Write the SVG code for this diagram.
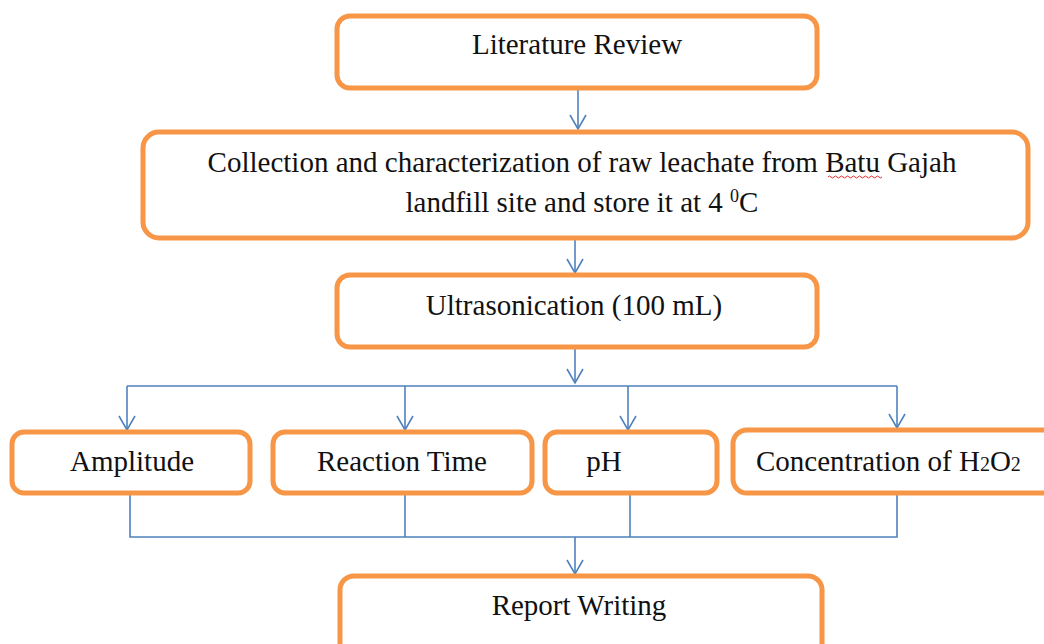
<svg xmlns="http://www.w3.org/2000/svg" width="1044" height="644" viewBox="0 0 1044 644">
<style>
.box{fill:#fff;stroke:#F79646;stroke-width:5}
.t{font-family:'Liberation Serif','Times New Roman',serif;font-size:29px;fill:#111}
.c{fill:none;stroke:#4F81BD;stroke-width:1.6}
</style>
<defs>
<marker id="ah" markerUnits="userSpaceOnUse" markerWidth="22" markerHeight="22" viewBox="-18 -11 22 22" refX="0" refY="0" orient="auto">
<path d="M-14,-8 L0,0 L-14,8" fill="none" stroke="#4F81BD" stroke-width="1.6"/>
</marker>
</defs>
<rect width="1044" height="644" fill="#fff"/>
<g id="connectors">
<line class="c" x1="578" y1="88" x2="578" y2="129" marker-end="url(#ah)"/>
<line class="c" x1="575" y1="238" x2="575" y2="273" marker-end="url(#ah)"/>
<line class="c" x1="575" y1="347" x2="575" y2="383" marker-end="url(#ah)"/>
<line class="c" x1="127" y1="386" x2="897" y2="386"/>
<line class="c" x1="127" y1="386" x2="127" y2="430" marker-end="url(#ah)"/>
<line class="c" x1="405" y1="386" x2="405" y2="430" marker-end="url(#ah)"/>
<line class="c" x1="628" y1="386" x2="628" y2="430" marker-end="url(#ah)"/>
<line class="c" x1="897" y1="386" x2="897" y2="428" marker-end="url(#ah)"/>
<polyline class="c" points="130,493 130,537 897,537 897,493"/>
<line class="c" x1="405" y1="493" x2="405" y2="537"/>
<line class="c" x1="630" y1="493" x2="630" y2="537"/>
<line class="c" x1="575" y1="537" x2="575" y2="574" marker-end="url(#ah)"/>
</g>
<g id="n1"><rect class="box" x="337" y="16" width="480" height="72" rx="13"/><text class="t" font-family="Liberation Serif, serif" x="577" y="54" text-anchor="middle">Literature Review</text></g>
<g id="n2"><rect class="box" x="143" y="132" width="885" height="106" rx="16"/>
<text class="t" font-family="Liberation Serif, serif" x="582" y="172" text-anchor="middle">Collection and characterization of raw leachate from Batu Gajah</text>
<text class="t" font-family="Liberation Serif, serif" x="582" y="212" text-anchor="middle">landfill site and store it at 4 <tspan font-size="18" dy="-10">0</tspan><tspan dy="10">C</tspan></text>
<path d="M828,177 q1.5,-2 3,0 t3,0 t3,0 t3,0 t3,0 t3,0 t3,0 t3,0 t3,0 t3,0 t3,0 t3,0 t3,0 t3,0 t3,0 t3,0 t3,0 t3,0" fill="none" stroke="#e03030" stroke-width="1"/>
</g>
<g id="n3"><rect class="box" x="337" y="275" width="480" height="72" rx="13"/><text class="t" font-family="Liberation Serif, serif" x="574" y="315" text-anchor="middle">Ultrasonication (100 mL)</text></g>
<g id="n4"><rect class="box" x="12" y="432" width="238" height="61" rx="12"/><text class="t" font-family="Liberation Serif, serif" x="132" y="471" text-anchor="middle">Amplitude</text></g>
<g id="n5"><rect class="box" x="273" y="432" width="259" height="61" rx="12"/><text class="t" font-family="Liberation Serif, serif" x="402" y="471" text-anchor="middle">Reaction Time</text></g>
<g id="n6"><rect class="box" x="545" y="432" width="172" height="61" rx="12"/><text class="t" font-family="Liberation Serif, serif" x="604" y="471" text-anchor="middle">pH</text></g>
<g id="n7"><rect class="box" x="733" y="430" width="330" height="63" rx="14"/><text class="t" font-family="Liberation Serif, serif" x="756" y="471">Concentration of H<tspan font-size="20">2</tspan>O<tspan font-size="20">2</tspan></text></g>
<g id="n8"><rect class="box" x="340" y="576" width="482" height="90" rx="14"/><text class="t" font-family="Liberation Serif, serif" x="579" y="615" text-anchor="middle">Report Writing</text></g>
</svg>
